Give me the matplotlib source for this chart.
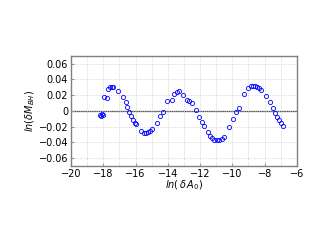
import numpy as np
import matplotlib.pyplot as plt
from matplotlib.ticker import MultipleLocator

# data
ln_dA0 = [-18.20, -18.12, -18.05, -17.99, -17.95, -17.75, -17.68, -17.58, -17.48,
          -17.40, -17.11, -16.80, -16.62, -16.50, -16.38, -16.27, -16.17, -16.06,
          -15.97, -15.64, -15.50, -15.38, -15.25, -15.10, -14.95, -14.65, -14.46,
          -14.28, -14.02, -13.76, -13.62, -13.46, -13.32, -13.08, -12.84, -12.68,
          -12.53, -12.27, -12.07, -11.91, -11.77, -11.54, -11.39, -11.25, -11.12,
          -10.98, -10.83, -10.66, -10.50, -10.19, -9.94, -9.78, -9.61, -9.26,
          -9.02, -8.86, -8.72, -8.58, -8.45, -8.33, -8.20, -7.94, -7.67, -7.50,
          -7.36, -7.22, -7.11, -6.99, -6.88]
ln_dM = [-0.005, -0.006, -0.0045, -0.005, 0.018, 0.016, 0.0275, 0.030, 0.030,
         0.030, 0.025, 0.017, 0.011, 0.0043, -0.002, -0.007, -0.0115, -0.015,
         -0.017, -0.0255, -0.0278, -0.028, -0.0275, -0.026, -0.023, -0.0155, -0.007,
         -0.001, 0.013, 0.014, 0.021, 0.024, 0.0255, 0.0204, 0.014, 0.013,
         0.0098, 0.0004, -0.008, -0.0136, -0.019, -0.027, -0.032, -0.035, -0.037,
         -0.0375, -0.037, -0.036, -0.033, -0.021, -0.010, -0.0013, 0.004, 0.0217,
         0.0285, 0.031, 0.032, 0.0315, 0.0306, 0.0285, 0.027, 0.0188, 0.0106, 0.0034,
         -0.003, -0.008, -0.012, -0.0157, -0.0188]

xticks = [-20, -18, -16, -14, -12, -10, -8, -6]
yticks = [-0.06, -0.04, -0.02, 0, 0.02, 0.04, 0.06]
ytick_labels = ['\u22120.06', '\u22120.04', '\u22120.02', '0', '0.02', '0.04', '0.06']

fig = plt.figure(figsize=(3.27, 2.43), dpi=100)
ax = fig.add_axes([0.217, 0.317, 0.691, 0.454])

ax.axhline(0, color='#555555', lw=0.9, zorder=1)
ax.plot(ln_dA0, ln_dM, 'o', mfc='none', mec='blue', ms=3.0, mew=0.6, zorder=3)

ax.set_xlim(-20, -6)
ax.set_ylim(-0.07, 0.07)
ax.set_xticks(xticks)
ax.set_xticklabels(['\u2212%d' % abs(t) for t in xticks])
ax.set_yticks(yticks)
ax.set_yticklabels(ytick_labels)
ax.xaxis.set_minor_locator(MultipleLocator(1))
ax.grid(True, which='major', axis='y', color='#c8c8c8', ls=':', lw=0.6)
ax.grid(True, which='both', axis='x', color='#c8c8c8', ls=':', lw=0.6)
ax.tick_params(which='major', direction='in', length=2, color='#999999', labelsize=7, pad=2)
ax.tick_params(which='minor', direction='in', length=1, color='#999999')

for s in ax.spines.values():
    s.set_color('#808080')
    s.set_linewidth(1.0)

ax.set_xlabel(r'$ln\left(\,\delta\, A_0\right)$', fontsize=7, labelpad=0)
ax.set_ylabel(r'$ln\left(\delta M_{BH}\right)$', fontsize=7, labelpad=1)

fig.savefig('out.png', dpi=100)
